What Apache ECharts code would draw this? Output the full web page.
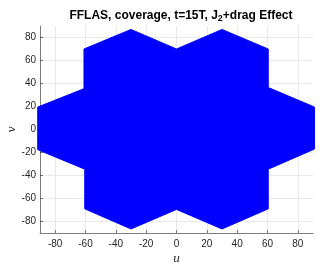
<!DOCTYPE html>
<html><head><meta charset="utf-8">
<script src="https://cdn.jsdelivr.net/npm/echarts@6/dist/echarts.min.js"></script>
<style>html,body{margin:0;padding:0;background:#fff}#c{width:324px;height:266px}</style>
</head><body><div id="c"></div>
<script>
var titleText = "FFLAS, coverage, t=15T, J{sub|2}+drag Effect";
var tickValues = [-80, -60, -40, -20, 0, 20, 40, 60, 80];
var outlineU = [-91.5, -61, -61, -30, 0, 30, 60.5, 60.5, 91, 91, 60.5, 60.5, 30, 0, -30, -60.5, -60.5, -91.5];
var outlineV = [19.5, 35.5, 70, 87, 70, 87, 70, 36.5, 19.5, -17, -34.5, -69, -86.5, -69.5, -86.5, -69, -34.5, -17.5];

var pts = outlineU.map(function (u, i) { return [u, outlineV[i]]; });
var chart = echarts.init(document.getElementById('c'), null, {renderer: 'canvas'});
var axisCommon = function (name, isX) {
  return {
    type: 'value', min: -90, max: 90,
    name: name, nameLocation: 'middle',
    nameGap: isX ? 26 : 28,
    nameMoveOverlap: false,
    nameRotate: isX ? 0 : 90,
    nameTextStyle: {fontFamily: 'DejaVu Serif', fontStyle: 'italic', fontSize: 11, color: '#262626', verticalAlign: 'middle'},
    axisLine: {show: true, onZero: false, lineStyle: {color: '#262626', width: 0.6}},
    axisTick: {show: true, inside: true, length: 3, customValues: tickValues, lineStyle: {color: '#262626', width: 0.6}},
    axisLabel: {customValues: tickValues, fontFamily: 'Liberation Sans', fontSize: 10, color: '#262626', margin: isX ? 6 : 4},
    splitLine: {show: true, customValues: tickValues, lineStyle: {color: '#e3e3e3', width: 0.8}}
  };
};
chart.setOption({
  animation: false,
  title: {
    text: titleText, left: 176, top: 3, textAlign: 'center',
    textStyle: {fontFamily: 'Liberation Sans', fontWeight: 'bold', fontSize: 12, color: '#000',
      rich: {sub: {fontFamily: 'Liberation Sans', fontWeight: 'bold', fontSize: 9, verticalAlign: 'bottom', padding: [6, 0, 0, 0]}}}
  },
  grid: {left: 40, right: 11, top: 26, bottom: 33, containLabel: false, outerBoundsMode: 'none'},
  xAxis: axisCommon('u', true),
  yAxis: axisCommon('v', false),
  series: [{
    type: 'custom',
    coordinateSystem: 'cartesian2d',
    data: pts,
    renderItem: function (params, api) {
      if (params.dataIndex !== 0) return null;
      var poly = pts.map(function (p) { return api.coord(p); });
      return {type: 'polygon', shape: {points: poly}, style: {fill: '#0000ff', stroke: '#0000ff', lineWidth: 1}};
    }
  }]
});
</script></body></html>
